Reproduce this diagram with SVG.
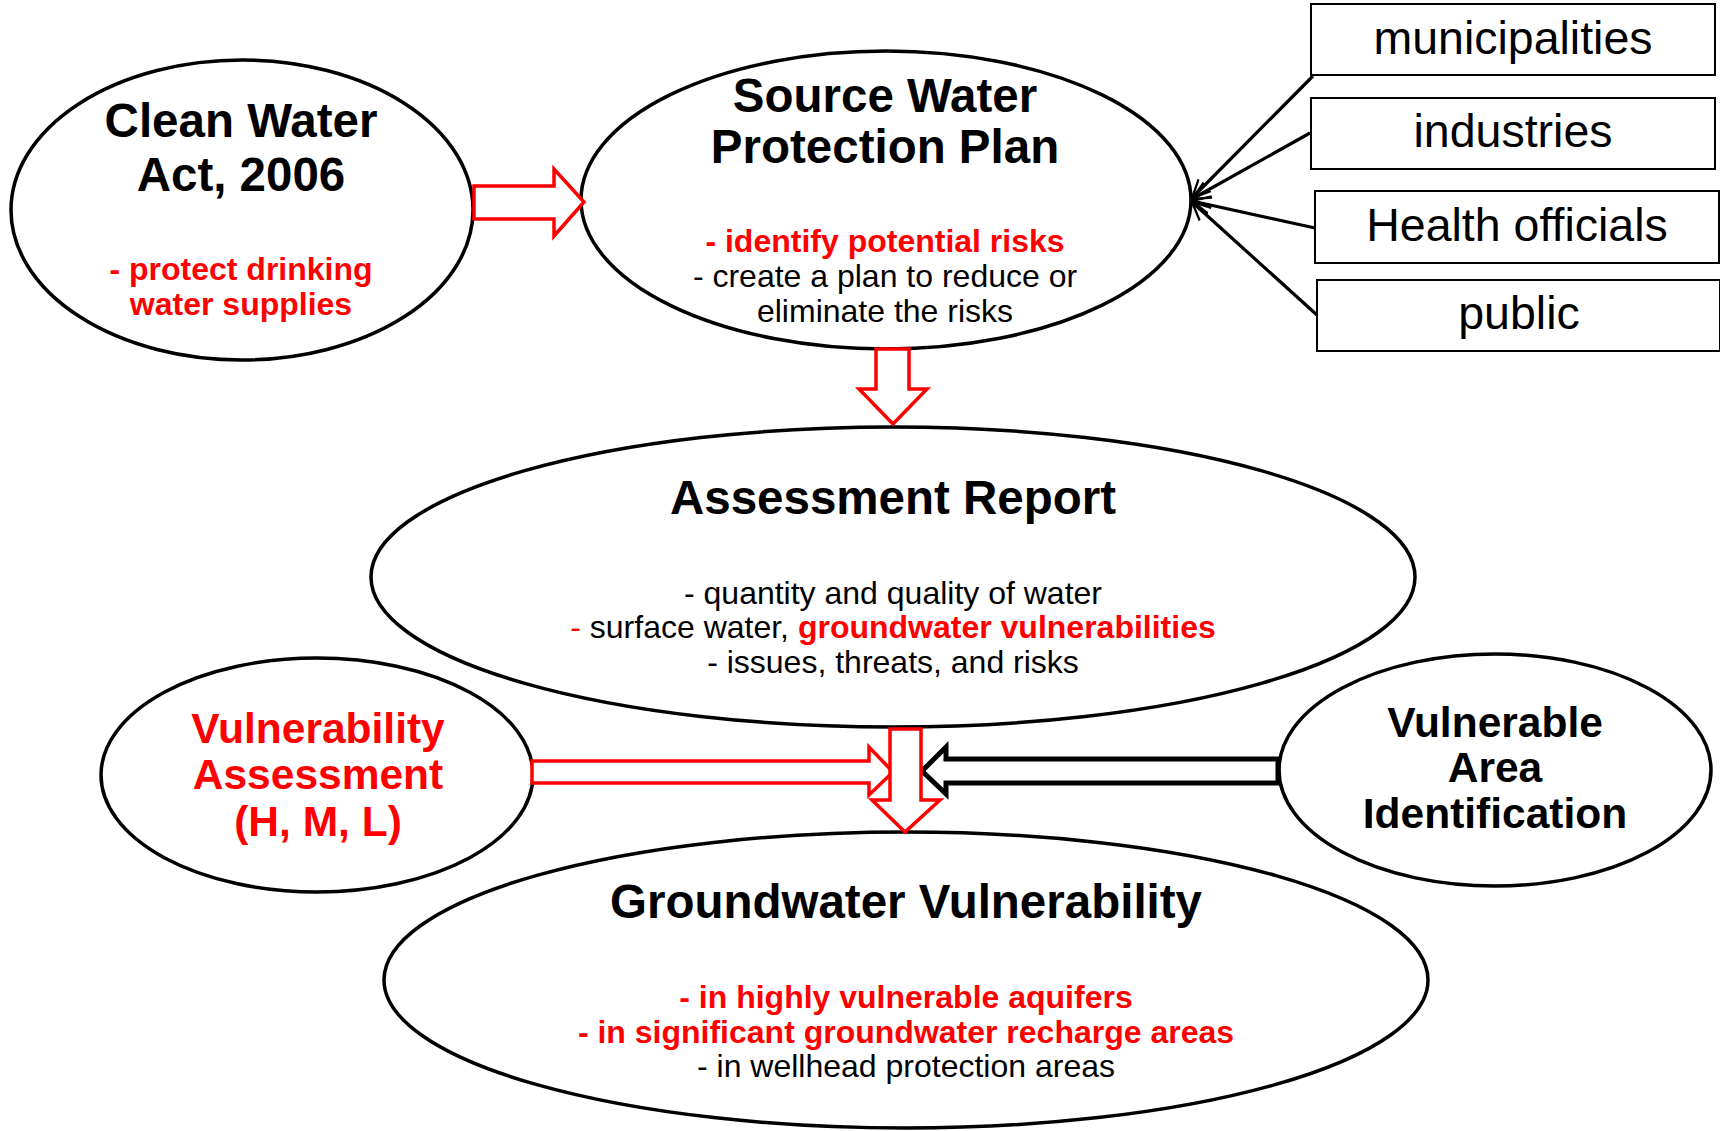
<svg xmlns="http://www.w3.org/2000/svg" width="1720" height="1131" viewBox="0 0 1720 1131">
<style>
.ell{fill:#fff;stroke:#000;stroke-width:3.5}
.box{fill:#fff;stroke:#000;stroke-width:2}
.t{font-family:"Liberation Sans",Arial,sans-serif;text-anchor:middle}
.title{font-size:47.5px;font-weight:bold;fill:#000}
.sub{font-size:42.5px;font-weight:bold}
.rb{font-size:32px;font-weight:bold;fill:#f00}
.reg{font-size:32px;fill:#000}
.bx{font-size:46.5px;fill:#000}
.red{fill:#f00}
.ra{fill:#fff;stroke:#f00;stroke-width:3.5}
.ba{fill:#fff;stroke:#000;stroke-width:5}
.ln{stroke:#000;stroke-width:3.2;fill:none}
</style>
<defs>
<marker id="open" viewBox="0 0 10 10" refX="9.5" refY="5" markerWidth="6" markerHeight="6" orient="auto" markerUnits="strokeWidth">
<path d="M0,0.5 L9.5,5 L0,9.5" fill="none" stroke="#000" stroke-width="1.2"/>
</marker>
</defs>

<g id="clean-water-act">
<ellipse class="ell" cx="242" cy="210" rx="231" ry="150"/>
<text class="t title" x="241" y="137">Clean Water</text>
<text class="t title" x="241" y="191">Act, 2006</text>
<text class="t rb" x="241" y="280">- protect drinking</text>
<text class="t rb" x="241" y="315">water supplies</text>
</g>

<g id="source-water-plan">
<ellipse class="ell" cx="886" cy="200" rx="305" ry="149"/>
<text class="t title" x="885" y="112">Source Water</text>
<text class="t title" x="885" y="163">Protection Plan</text>
<text class="t rb" x="885" y="252">- identify potential risks</text>
<text class="t reg" x="885" y="287">- create a plan to reduce or</text>
<text class="t reg" x="885" y="322">eliminate the risks</text>
</g>

<g id="municipalities">
<rect class="box" x="1311" y="4" width="404" height="71"/>
<text class="t bx" x="1513" y="54">municipalities</text>
</g>
<g id="industries">
<rect class="box" x="1311" y="98" width="404" height="71"/>
<text class="t bx" x="1513" y="147">industries</text>
</g>
<g id="health-officials">
<rect class="box" x="1315" y="191" width="404" height="72"/>
<text class="t bx" x="1517" y="241">Health officials</text>
</g>
<g id="public">
<rect class="box" x="1317" y="280" width="403" height="71"/>
<text class="t bx" x="1519" y="329">public</text>
</g>

<g id="assessment-report">
<ellipse class="ell" cx="893" cy="577" rx="522" ry="150"/>
<text class="t title" x="893" y="514">Assessment Report</text>
<text class="t reg" x="893" y="604">- quantity and quality of water</text>
<text class="t reg" x="893" y="638"><tspan class="red">- </tspan>surface water, <tspan font-weight="bold" class="red">groundwater vulnerabilities</tspan></text>
<text class="t reg" x="893" y="673">- issues, threats, and risks</text>
</g>

<g id="vulnerability-assessment">
<ellipse class="ell" cx="317" cy="775" rx="216" ry="117"/>
<text class="t sub red" x="318" y="743">Vulnerability</text>
<text class="t sub red" x="318" y="789">Assessment</text>
<text class="t sub red" x="318" y="836">(H, M, L)</text>
</g>

<g id="vulnerable-area-identification">
<ellipse class="ell" cx="1495" cy="770" rx="216" ry="116"/>
<text class="t sub" x="1495" y="737">Vulnerable</text>
<text class="t sub" x="1495" y="782">Area</text>
<text class="t sub" x="1495" y="828">Identification</text>
</g>

<g id="groundwater-vulnerability">
<ellipse class="ell" cx="906" cy="980" rx="522" ry="148"/>
<text class="t title" x="906" y="918">Groundwater Vulnerability</text>
<text class="t rb" x="906" y="1008">- in highly vulnerable aquifers</text>
<text class="t rb" x="906" y="1043">- in significant groundwater recharge areas</text>
<text class="t reg" x="906" y="1077">- in wellhead protection areas</text>
</g>

<g id="connectors">
<polygon class="ra" points="474,186 554,186 554,169 584,202 554,236 554,219 474,219"/>
<polygon class="ra" points="876,349 909,349 909,389 927,389 893,424 859,389 876,389"/>
<polygon class="ra" points="532,761 869,761 869,747 893,772 869,795 869,783 532,783"/>
<polygon class="ba" points="1278,759 946,759 946,747 922,771 946,794 946,783 1278,783"/>
<polygon class="ra" points="890,729 921,729 921,800 940,800 905,832 872,800 890,800"/>
<line class="ln" x1="1313" y1="76" x2="1192" y2="198" marker-end="url(#open)"/>
<line class="ln" x1="1310" y1="133" x2="1192" y2="199" marker-end="url(#open)"/>
<line class="ln" x1="1315" y1="228" x2="1192" y2="201" marker-end="url(#open)"/>
<line class="ln" x1="1317" y1="315" x2="1192" y2="202" marker-end="url(#open)"/>
</g>
</svg>
